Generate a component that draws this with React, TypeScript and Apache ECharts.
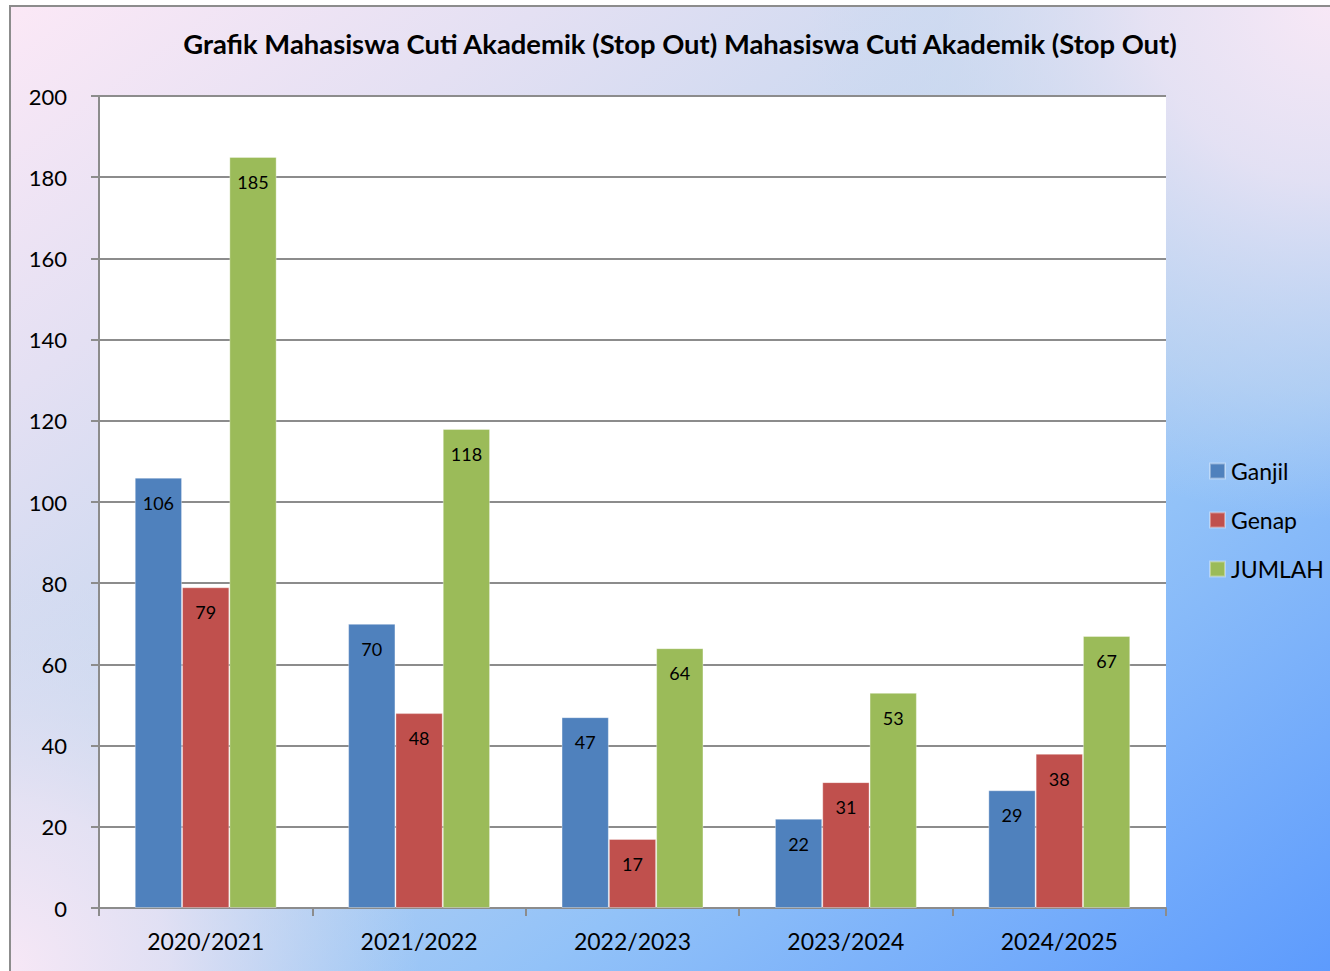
import React, { useEffect, useRef } from "react";
import * as echarts from "echarts";

const categories = ["2020/2021", "2021/2022", "2022/2023", "2023/2024", "2024/2025"];
const seriesNames = ["Ganjil", "Genap", "JUMLAH"];
const ganjil = [106, 70, 47, 22, 29];
const genap = [79, 48, 17, 31, 38];
const jumlah = [185, 118, 64, 53, 67];
const seriesColors = ["#4f81bd", "#c0504d", "#9bbb59"];
const titleText =
  "Grafik Mahasiswa Cuti Akademik (Stop Out) Mahasiswa Cuti Akademik (Stop Out)";

const FONT = "Lato, 'Open Sans', sans-serif";

export default function App() {
  const ref = useRef<HTMLDivElement>(null);

  useEffect(() => {
    document.body.style.margin = "0";
    if (!ref.current) return;
    const chart = echarts.init(ref.current, undefined, { renderer: "svg" });
    const W = 1330;
    const H = 971;
    const bgLinear = new echarts.graphic.LinearGradient(
      0,
      0,
      1,
      1,
      [
        { offset: 0, color: "#fbe8f6" },
        { offset: 0.2, color: "#e4e0f3" },
        { offset: 0.45, color: "#c3d6ef" },
        { offset: 0.7, color: "#92c2f8" },
        { offset: 1, color: "#5d9bfd" },
      ]
    );
    const pinkTR = new echarts.graphic.RadialGradient(
      W,
      0,
      520,
      [
        { offset: 0, color: "rgba(248,232,246,1)" },
        { offset: 0.35, color: "rgba(236,228,244,0.85)" },
        { offset: 0.75, color: "rgba(205,218,240,0.5)" },
        { offset: 1, color: "rgba(200,216,240,0)" },
      ],
      true
    );
    const pinkBL = new echarts.graphic.RadialGradient(
      0,
      H,
      420,
      [
        { offset: 0, color: "rgba(248,232,246,1)" },
        { offset: 0.4, color: "rgba(236,228,244,0.8)" },
        { offset: 1, color: "rgba(210,220,240,0)" },
      ],
      true
    );

    const labelCfg = {
      show: true,
      position: "insideTop",
      distance: 16,
      color: "#000",
      fontSize: 18,
      fontFamily: FONT,
    };

    const dataArrays = [ganjil, genap, jumlah];

    chart.setOption({
      animation: false,
      textStyle: { fontFamily: FONT },
      graphic: [
        {
          type: "rect",
          z: -10,
          shape: { x: 11, y: 7, width: W - 11, height: H - 7 },
          style: { fill: bgLinear },
          silent: true,
        },
        {
          type: "rect",
          z: -9,
          shape: { x: 11, y: 7, width: W - 11, height: H - 7 },
          style: { fill: pinkTR },
          silent: true,
        },
        {
          type: "rect",
          z: -9,
          shape: { x: 11, y: 7, width: W - 11, height: H - 7 },
          style: { fill: pinkBL },
          silent: true,
        },
        {
          type: "polyline",
          z: -8,
          shape: { points: [[10, H], [10, 6], [W, 6]] },
          style: { stroke: "#8c8c8c", lineWidth: 2, fill: null },
          silent: true,
        },
      ],
      title: {
        text: titleText,
        left: 675,
        top: 25,
        textAlign: "center",
        textStyle: {
          fontFamily: FONT,
          fontSize: 27.4,
          fontWeight: "bold",
          color: "#000",
        },
      },
      legend: {
        orient: "vertical",
        left: 1209,
        top: 458,
        padding: 0,
        itemWidth: 15,
        itemHeight: 15,
        itemGap: 23,
        icon: "rect",
        data: seriesNames,
        textStyle: {
          fontFamily: FONT,
          fontSize: 23,
          lineHeight: 26,
          color: "#000",
          padding: [0, 0, 0, 1],
        },
      },
      grid: {
        left: 99,
        top: 96,
        width: 1067,
        height: 812,
        show: true,
        backgroundColor: "#ffffff",
        borderWidth: 0,
        containLabel: false,
      },
      xAxis: {
        type: "category",
        data: categories,
        boundaryGap: true,
        axisLine: { show: true, lineStyle: { color: "#8c8c8c", width: 2 } },
        axisTick: {
          show: true,
          length: 8,
          alignWithLabel: false,
          lineStyle: { color: "#8c8c8c", width: 2 },
        },
        axisLabel: {
          margin: 21,
          color: "#000",
          fontSize: 23,
          fontFamily: FONT,
        },
        splitLine: { show: false },
      },
      yAxis: {
        type: "value",
        min: 0,
        max: 200,
        interval: 20,
        axisLine: { show: true, lineStyle: { color: "#8c8c8c", width: 2 } },
        axisTick: {
          show: true,
          inside: false,
          length: 8,
          lineStyle: { color: "#8c8c8c", width: 2 },
        },
        axisLabel: {
          margin: 32,
          color: "#000",
          fontSize: 22,
          fontFamily: FONT,
          padding: [0, 0, 4, 0],
        },
        splitLine: { show: true, lineStyle: { color: "#8c8c8c", width: 2 } },
      },
      series: seriesNames.map((name, i) => ({
        name,
        type: "bar",
        data: dataArrays[i],
        barGap: "0%",
        barCategoryGap: "33.5%",
        itemStyle: {
          color: seriesColors[i],
          borderColor: "rgba(255,255,255,0.35)",
          borderWidth: 1,
        },
        label: labelCfg,
      })),
    });

    return () => {
      chart.dispose();
    };
  }, []);

  return <div ref={ref} style={{ width: 1330, height: 971 }} />;
}
